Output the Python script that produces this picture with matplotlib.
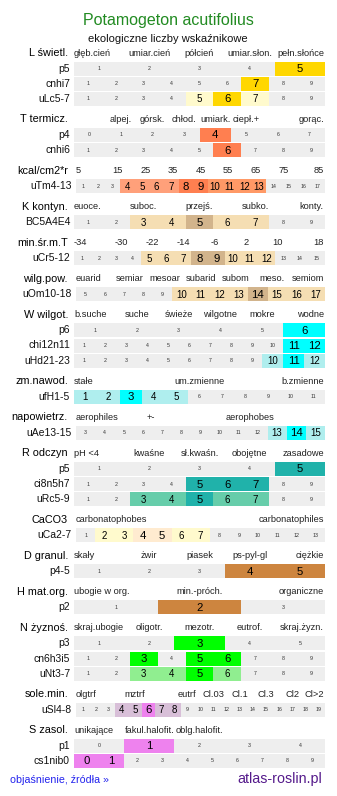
import matplotlib
matplotlib.use("Agg")
import matplotlib.pyplot as plt

plt.rcParams['font.family'] = ['Liberation Sans', 'DejaVu Sans']

TITLE = "Potamogeton acutifolius"
SUBTITLE = "ekologiczne liczby wskaźnikowe"
FOOT_LEFT = "objaśnienie, źródła »"
FOOT_RIGHT = "atlas-roslin.pl"

# ---- data: section name, scale labels, rows (label, first, last), highlighted value -> tone
L_name = "L świetl."
L_scale = ["głęb.cień", "umiar.cień", "półcień", "umiar.słon.", "pełn.słońce"]
L_rows = ["p5", "cnhi7", "uLc5-7"]
L_ranges = [(1, 5), (1, 9), (1, 9)]
L_marks = [{5: 2}, {7: 2}, {5: 1, 6: 2, 7: 1}]

T_name = "T termicz."
T_scale = ["alpej.", "górsk.", "chłod.", "umiark.", "ciepł.+", "gorąc."]
T_rows = ["p4", "cnhi6"]
T_ranges = [(0, 7), (1, 9)]
T_marks = [{4: 2}, {6: 2}]

E_name = "kcal/cm2*r"
E_scale = ["5", "15", "25", "35", "45", "55", "65", "75", "85"]
E_rows = ["uTm4-13"]
E_ranges = [(1, 17)]
E_marks = [{4: 1, 5: 1, 6: 1, 7: 1, 8: 2, 9: 2, 10: 3, 11: 3, 12: 3, 13: 3}]

K_name = "K kontyn."
K_scale = ["euoce.", "suboc.", "przejś.", "subko.", "konty."]
K_rows = ["BC5A4E4"]
K_ranges = [(1, 9)]
K_marks = [{3: 1, 4: 1, 5: 2, 6: 1, 7: 1}]

M_name = "min.śr.m.T"
M_scale = ["-34", "-30", "-22", "-14", "-6", "2", "10", "18"]
M_rows = ["uCr5-12"]
M_ranges = [(1, 15)]
M_marks = [{5: 1, 6: 1, 7: 1, 8: 2, 9: 2, 10: 1, 11: 1, 12: 1}]

O_name = "wilg.pow."
O_scale = ["euarid", "semiar", "mesoar", "subarid", "subom", "meso.", "semiom"]
O_rows = ["uOm10-18"]
O_ranges = [(5, 17)]
O_marks = [{10: 1, 11: 1, 12: 1, 13: 1, 14: 2, 15: 1, 16: 1, 17: 1}]

W_name = "W wilgot."
W_scale = ["b.suche", "suche", "świeże", "wilgotne", "mokre", "wodne"]
W_rows = ["p6", "chi12n11", "uHd21-23"]
W_ranges = [(1, 6), (1, 12), (1, 12)]
W_marks = [{6: 2}, {11: 2, 12: 2}, {10: 1, 11: 2, 12: 1}]

Z_name = "zm.nawod."
Z_scale = ["stałe", "um.zmienne", "b.zmienne"]
Z_rows = ["ufH1-5"]
Z_ranges = [(1, 11)]
Z_marks = [{1: 1, 2: 1, 3: 2, 4: 1, 5: 1}]

A_name = "napowietrz."
A_scale = ["aerophiles", "+-", "aerophobes"]
A_rows = ["uAe13-15"]
A_ranges = [(3, 15)]
A_marks = [{13: 1, 14: 2, 15: 1}]

R_name = "R odczyn"
R_scale = ["pH <4", "kwaśne", "sł.kwaśn.", "obojętne", "zasadowe"]
R_rows = ["p5", "ci8n5h7", "uRc5-9"]
R_ranges = [(1, 5), (1, 9), (1, 9)]
R_marks = [{5: 2}, {5: 2, 6: 2, 7: 2}, {3: 1, 4: 1, 5: 2, 6: 1, 7: 1}]

C_name = "CaCO3"
C_scale = ["carbonatophobes", "carbonatophiles"]
C_rows = ["uCa2-7"]
C_ranges = [(1, 13)]
C_marks = [{2: 1, 3: 1, 4: 3, 5: 3, 6: 1, 7: 1}]

D_name = "D granul."
D_scale = ["skały", "żwir", "piasek", "ps-pyl-gl", "ciężkie"]
D_rows = ["p4-5"]
D_ranges = [(1, 5)]
D_marks = [{4: 2, 5: 2}]

H_name = "H mat.org."
H_scale = ["ubogie w org.", "min.-próch.", "organiczne"]
H_rows = ["p2"]
H_ranges = [(1, 3)]
H_marks = [{2: 2}]

N_name = "N żyznoś."
N_scale = ["skraj.ubogie", "oligotr.", "mezotr.", "eutrof.", "skraj.żyzn."]
N_rows = ["p3", "cn6h3i5", "uNt3-7"]
N_ranges = [(1, 5), (1, 9), (1, 9)]
N_marks = [{3: 2}, {3: 2, 5: 2, 6: 2}, {3: 1, 4: 1, 5: 2, 6: 1}]

S1_name = "sole.min."
S1_scale = ["olgtrf", "mztrf", "eutrf", "Cl.03", "Cl.1", "Cl.3", "Cl2", "Cl>2"]
S1_rows = ["uSl4-8"]
S1_ranges = [(1, 19)]
S1_marks = [{4: 1, 5: 1, 6: 2, 7: 1, 8: 1}]

S_name = "S zasol."
S_scale = ["unikające", "fakul.halofit.", "oblg.halofit."]
S_rows = ["p1", "cs1nib0"]
S_ranges = [(0, 4), (0, 9)]
S_marks = [{1: 2}, {0: 2, 1: 2}]

# ---- styles / layout (not data)
PAL = {
    "L": {1: "#FFFACD", 2: "#FFD700"},
    "T": {2: "#FF7F50"},
    "E": {1: "#FFA07A", 2: "#FF7F50", 3: "#FF9966"},
    "K": {1: "#F5DEB3", 2: "#D2B48C"},
    "W": {1: "#AFEEEE", 2: "#00FFFF"},
    "R": {1: "#66CDAA", 2: "#20B2AA"},
    "C": {1: "#FFFACD", 3: "#FFEBD0"},
    "D": {2: "#CD853F"},
    "N": {1: "#90EE90", 2: "#00FF00"},
    "S1": {1: "#D8BFD8", 2: "#EE82EE"},
    "S": {2: "#EE82EE"},
}
TONE_FS = {1: 7.0, 2: 8.2, 3: 7.0}
# for uCa the middle tone is the emphasised one
C_TONE_FS = {1: 7.0, 3: 8.2}

# (name, scale, rows, ranges, marks, palette, grid size, grid positions, row x-start, tone font sizes)
SECTIONS = [
    (L_name, L_scale, L_rows, L_ranges, L_marks, PAL["L"], 5, [1, 2, 3, 4, 5], 74, TONE_FS),
    (T_name, T_scale, T_rows, T_ranges, T_marks, PAL["T"], 8, [2, 3, 4, 5, 6, 8], 74, TONE_FS),
    (E_name, E_scale, E_rows, E_ranges, E_marks, PAL["E"], 9, list(range(1, 10)), 76, TONE_FS),
    (K_name, K_scale, K_rows, K_ranges, K_marks, PAL["K"], 9, [1, 3, 5, 7, 9], 74, TONE_FS),
    (M_name, M_scale, M_rows, M_ranges, M_marks, PAL["K"], 8, list(range(1, 9)), 74, TONE_FS),
    (O_name, O_scale, O_rows, O_ranges, O_marks, PAL["K"], 7, list(range(1, 8)), 76, TONE_FS),
    (W_name, W_scale, W_rows, W_ranges, W_marks, PAL["W"], 6, list(range(1, 7)), 74, TONE_FS),
    (Z_name, Z_scale, Z_rows, Z_ranges, Z_marks, PAL["W"], 3, [1, 2, 3], 74, TONE_FS),
    (A_name, A_scale, A_rows, A_ranges, A_marks, PAL["W"], 5, [1, 2, 4], 76, TONE_FS),
    (R_name, R_scale, R_rows, R_ranges, R_marks, PAL["R"], 5, [1, 2, 3, 4, 5], 74, TONE_FS),
    (C_name, C_scale, C_rows, C_ranges, C_marks, PAL["C"], 2, [1, 2], 76, C_TONE_FS),
    (D_name, D_scale, D_rows, D_ranges, D_marks, PAL["D"], 5, [1, 2, 3, 4, 5], 74, TONE_FS),
    (H_name, H_scale, H_rows, H_ranges, H_marks, PAL["D"], 3, [1, 2, 3], 74, TONE_FS),
    (N_name, N_scale, N_rows, N_ranges, N_marks, PAL["N"], 5, [1, 2, 3, 4, 5], 74, TONE_FS),
    (S1_name, S1_scale, S1_rows, S1_ranges, S1_marks, PAL["S1"], 19, [1, 5, 9, 11, 13, 15, 17, 19], 76, TONE_FS),
    (S_name, S_scale, S_rows, S_ranges, S_marks, PAL["S"], 5, [1, 2, 3], 74, TONE_FS),
]

W_PX, H_PX = 337, 796
X_END = 325
ROW_H = 14
PITCH = 15.25
HEAD_TO_ROW = 15.5
SECTION_GAP = 20.75
GRAY = "#EEEEEE"
HEAD_FS = 6.7

fig = plt.figure(figsize=(W_PX / 100, H_PX / 100), dpi=100)
ax = fig.add_axes([0, 0, 1, 1])
ax.set_xlim(0, W_PX)
ax.set_ylim(H_PX, 0)
ax.axis("off")

ax.text(168, 20, TITLE, ha="center", va="center", fontsize=11.5, color="#228B22")
ax.text(168, 38.5, SUBTITLE, ha="center", va="center", fontsize=8.0, color="#111111")

hy = 53
for (name, scale, rows, ranges, marks, pal, grid, pos, x0, tfs) in SECTIONS:
    ax.text(68, hy, name, ha="right", va="center", fontsize=7.8, color="#000000")
    cw = (X_END - x0) / grid
    for lab, p in zip(scale, pos):
        if p == 1:
            ax.text(x0, hy, lab, ha="left", va="center", fontsize=HEAD_FS, color="#222222")
        elif p == grid:
            ax.text(X_END - 1, hy, lab, ha="right", va="center", fontsize=HEAD_FS, color="#222222")
        else:
            ax.text(x0 + cw * (p - 0.5), hy, lab, ha="center", va="center", fontsize=HEAD_FS, color="#222222")
    for i, (rlab, (a, b), mk) in enumerate(zip(rows, ranges, marks)):
        ry = hy + HEAD_TO_ROW + i * PITCH
        vals = list(range(a, b + 1))
        n = len(vals)
        w = (X_END - x0) / n
        centers = [x0 + w * (k + 0.5) for k in range(n)]
        cols = [pal[mk[v]] if v in mk else GRAY for v in vals]
        ax.bar(centers, ROW_H, bottom=ry - ROW_H / 2, width=w, color=cols,
               linewidth=0, antialiased=False)
        ax.text(x0 - 4, ry, rlab, ha="right", va="center", fontsize=7.5, color="#111111")
        for c, v in zip(centers, vals):
            if v in mk:
                ax.text(c, ry + 0.5, str(v), ha="center", va="center",
                        fontsize=tfs.get(mk[v], 7.5), color="#000000")
            else:
                ax.text(c, ry, str(v), ha="center", va="center", fontsize=3.8, color="#333333")
    hy += len(rows) * PITCH + SECTION_GAP

ax.text(10, 780, FOOT_LEFT, ha="left", va="center", fontsize=7.7, color="#2222EE")
ax.text(322, 779, FOOT_RIGHT, ha="right", va="center", fontsize=10.3, color="#551A8B")

fig.savefig("out.png", dpi=100)
